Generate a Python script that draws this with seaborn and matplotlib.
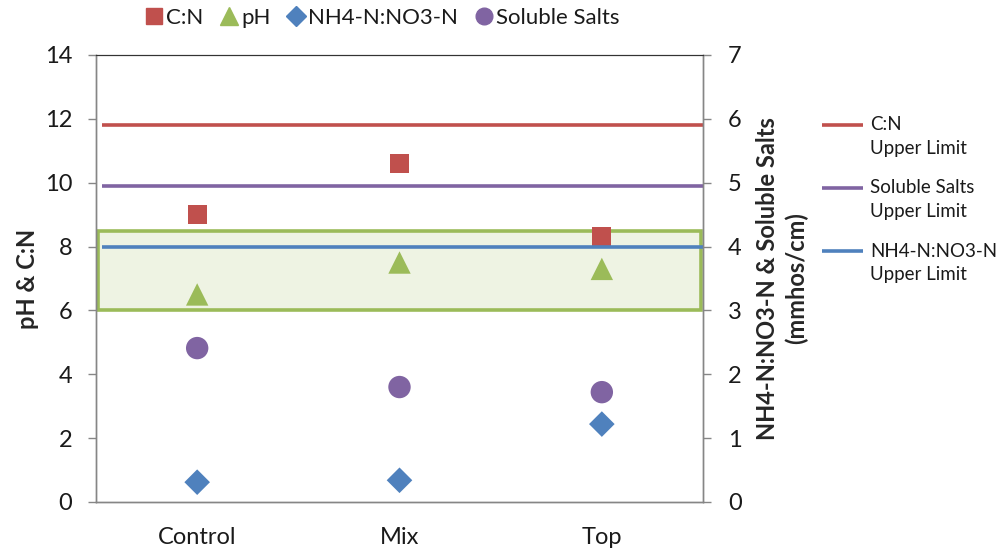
import numpy as np
import pandas as pd
import matplotlib
matplotlib.use("Agg")
import matplotlib.pyplot as plt
from matplotlib.lines import Line2D
from matplotlib.patches import Rectangle
import seaborn as sns

# ---- data ----
categories = ["Control", "Mix", "Top"]
cn = [9.0, 10.6, 8.3]               # left axis
ph = [6.5, 7.5, 7.3]                # left axis
nh4_no3 = [0.31, 0.34, 1.22]        # right axis
soluble_salts = [2.41, 1.80, 1.72]  # right axis (mmhos/cm)

cn_limit = 11.8          # left axis
salts_limit = 4.95       # right axis
nh4_limit = 4.0          # right axis
ph_range = [6.0, 8.5]    # left axis (acceptable pH band)

left_ticks = [0, 2, 4, 6, 8, 10, 12, 14]
right_ticks = [0, 1, 2, 3, 4, 5, 6, 7]
limit_labels = ["C:N\nUpper Limit", "Soluble Salts\nUpper Limit", "NH4-N:NO3-N\nUpper Limit"]

RED = "#C0504D"
GREEN = "#9BBB59"
BLUE = "#4F81BD"
PURPLE = "#8064A2"
AXC = "#868686"
TXT = "#1a1a1a"

sns.set_style("white")
plt.rcParams["font.family"] = ["Lato", "DejaVu Sans"]
plt.rcParams["text.color"] = TXT

fig = plt.figure(figsize=(10, 5.52), dpi=100)
ax = fig.add_axes([0.096, 0.0906, 0.607, 0.8098])
ax2 = ax.twinx()

xpos = np.arange(len(categories))

# pH band
ax.add_patch(Rectangle((-0.49, ph_range[0]), 2.98, ph_range[1] - ph_range[0],
                       facecolor="#EEF3E3", edgecolor=GREEN, linewidth=2.6, zorder=1))

# limit lines
ax.plot([-0.47, 2.5], [cn_limit, cn_limit], color=RED, lw=2.6, zorder=2, solid_capstyle="butt")
ax2.plot([-0.47, 2.5], [salts_limit, salts_limit], color=PURPLE, lw=2.6, zorder=2, solid_capstyle="butt")
ax2.plot([-0.47, 2.5], [nh4_limit, nh4_limit], color=BLUE, lw=2.6, zorder=2, solid_capstyle="butt")

df_left = pd.DataFrame({"x": np.concatenate([xpos, xpos]),
                        "y": cn + ph,
                        "series": ["C:N"] * 3 + ["pH"] * 3})
df_right = pd.DataFrame({"x": np.concatenate([xpos, xpos]),
                         "y": nh4_no3 + soluble_salts,
                         "series": ["NH4-N:NO3-N"] * 3 + ["Soluble Salts"] * 3})

sns.scatterplot(data=df_left[df_left.series == "C:N"], x="x", y="y", ax=ax,
                marker="s", s=190, color=RED, edgecolor="none", legend=False, zorder=3)
sns.scatterplot(data=df_left[df_left.series == "pH"], x="x", y="y", ax=ax,
                marker="^", s=260, color=GREEN, edgecolor="none", legend=False, zorder=3)
sns.scatterplot(data=df_right[df_right.series == "NH4-N:NO3-N"], x="x", y="y", ax=ax2,
                marker="D", s=170, color=BLUE, edgecolor="none", legend=False, zorder=3)
sns.scatterplot(data=df_right[df_right.series == "Soluble Salts"], x="x", y="y", ax=ax2,
                marker="o", s=260, color=PURPLE, edgecolor="none", legend=False, zorder=3)

ax.set_xlim(-0.5, 2.5)
ax.set_ylim(0, 14)
ax2.set_ylim(0, 7)
ax.set_yticks(left_ticks)
ax2.set_yticks(right_ticks)
ax.set_xticks(xpos)
ax.set_xticklabels(categories)
ax.set_xticks([-0.5, 0.5, 1.5, 2.5], minor=True)
ax.tick_params(axis="x", which="major", length=0, labelsize=17, pad=18, labelcolor=TXT)
ax.tick_params(axis="x", which="minor", length=6, color=AXC, width=1, direction="out")
ax.tick_params(axis="y", length=6, color=AXC, width=1, direction="out", labelsize=17,
               pad=11, labelcolor=TXT)
ax2.tick_params(axis="y", length=6, color=AXC, width=1, direction="out", labelsize=17,
                pad=12, labelcolor=TXT)
ax.set_xlabel("")
ax.set_ylabel("pH & C:N", fontsize=17, fontweight="bold", labelpad=4)
ax2.set_ylabel("NH4-N:NO3-N & Soluble Salts\n(mmhos/cm)", fontsize=17,
               fontweight="bold", labelpad=10, linespacing=1.3)

for a in (ax, ax2):
    for side in ("left", "right", "bottom"):
        a.spines[side].set_color(AXC)
        a.spines[side].set_linewidth(1)
    a.spines["top"].set_color("#333333")
    a.spines["top"].set_linewidth(0.8)
    a.grid(False)
    a.patch.set_alpha(0)

# top legend (markers)
top_handles = [
    Line2D([], [], ls="none", marker="s", ms=12, color=RED, label="C:N"),
    Line2D([], [], ls="none", marker="^", ms=13, color=GREEN, label="pH"),
    Line2D([], [], ls="none", marker="D", ms=10, color=BLUE, label="NH4-N:NO3-N"),
    Line2D([], [], ls="none", marker="o", ms=12, color=PURPLE, label="Soluble Salts"),
]
fig.legend(handles=top_handles, loc="center", bbox_to_anchor=(0.382, 0.967), ncol=4,
           frameon=False, fontsize=16, handlelength=0.8, handletextpad=0.15,
           columnspacing=0.75, borderaxespad=0)

# right legend (limit lines): key line beside the first text line of each entry
key_colors = [RED, PURPLE, BLUE]
key_rows = [0.774, 0.660, 0.545]   # figure-fraction y of each entry's first line
for c, lab, yk in zip(key_colors, limit_labels, key_rows):
    fig.add_artist(Line2D([0.822, 0.863], [yk, yk], color=c, lw=2.6,
                          transform=fig.transFigure, solid_capstyle="butt"))
    fig.text(0.870, yk + 0.015, lab, fontsize=13.5, va="top", ha="left",
             linespacing=1.45)

fig.savefig("out.png", dpi=100)
